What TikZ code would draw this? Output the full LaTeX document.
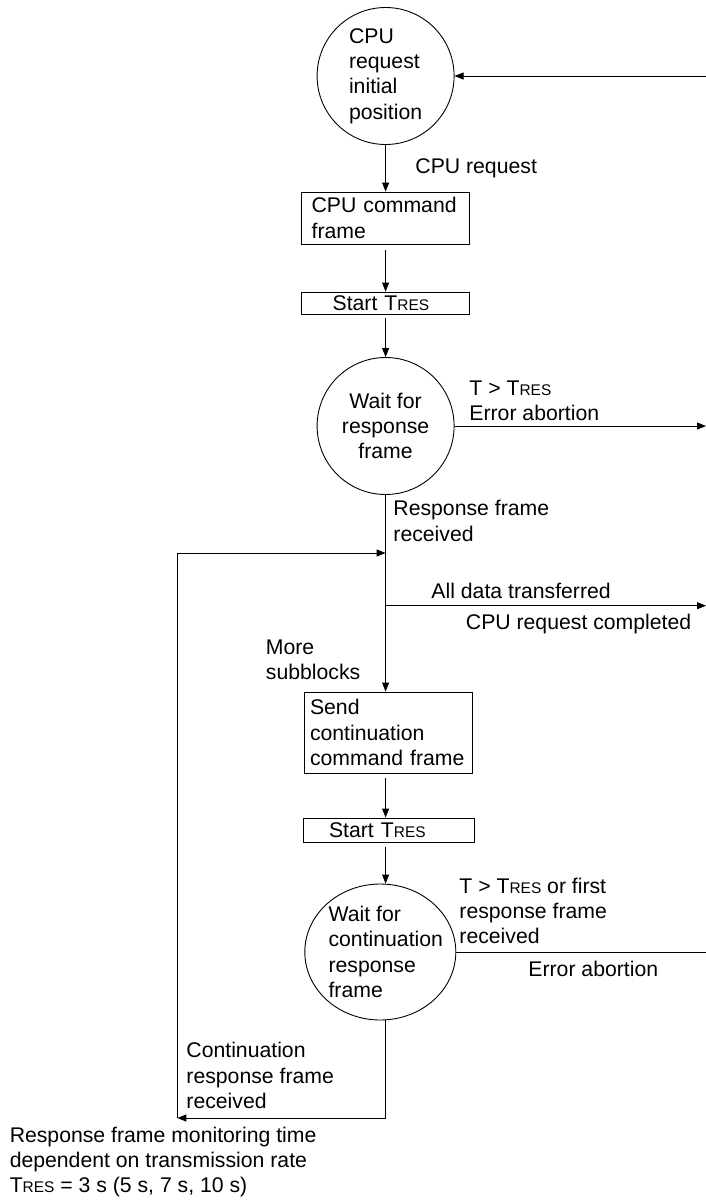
\documentclass[tikz,border=0pt]{standalone}
\usepackage{fontspec}
\setmainfont{Liberation Sans}
\usetikzlibrary{arrows.meta,shapes.geometric}
\newcommand\tres{T{\fontsize{15.5}{15.5}\selectfont RES}}
\begin{document}
\begin{tikzpicture}[x=1bp,y=-1bp,
  font=\fontsize{21.3}{25.3}\selectfont,
  line width=0.9bp,
  arr/.style={-{Triangle[length=9bp,width=7bp]}},
  state/.style={draw,circle,inner sep=0pt,minimum size=137bp},
  box/.style={draw,rectangle,inner ysep=0pt,align=left},
  lbl/.style={anchor=west,align=left,inner sep=0pt}]
\useasboundingbox (0,0) rectangle (706,1203);

% states
\node[state,label={[align=left,inner sep=0pt]center:CPU\\request\\initial\\position}] (c1) at (385.6,76) {};
\node[state,label={[align=center,inner sep=0pt]center:Wait for\\response\\frame}] (c2) at (385.6,426) {};
\node[draw,ellipse,inner sep=0pt,minimum width=151bp,minimum height=136bp,
      label={[align=left,inner sep=0pt,xshift=5.5bp]center:Wait for\\continuation\\response\\frame}] (c3) at (380.3,952) {};

% boxes
\node[box,text width=148bp,inner xsep=10bp,minimum height=52bp] (b1) at (385.6,218) {CPU command\\frame};
\node[box,text width=106bp,inner xsep=31bp,minimum height=22bp] (s1) at (385.6,303) {Start \tres};
\node[box,text width=156bp,inner xsep=6bp,minimum height=81bp] (b2) at (388,732.5) {Send\\continuation\\command frame};
\node[box,text width=119bp,inner xsep=26bp,minimum height=24bp] (s2) at (388.5,830) {Start \tres};

% free ends
\coordinate (inR) at (706,76);
\coordinate (outA) at (706,426);
\coordinate (br) at (385.6,605.7);
\coordinate (outB) at (706,605.7);
\coordinate (lp) at (385.6,553);
\coordinate (ll) at (177.4,1118);
\coordinate (outC) at (706,952);

% connectors
\draw[arr] (inR) -- (c1);
\draw[arr] (c1.south) -- (b1.north);
\draw[arr,shorten <=6bp] (b1.south) -- (s1.north);
\draw[arr,shorten <=4bp] (s1.south) -- (c2.north);
\draw[arr] (c2.east) -- (outA);
\draw[arr] (c2.south) -- (c2.south |- b2.north);
\draw[arr] (br) -- (outB);
\draw[arr] (ll) |- (lp);
\draw[arr,shorten <=5bp] (b2.south -| c2.south) -- (s2.north -| c2.south);
\draw[arr,shorten <=4.5bp] (s2.south -| c2.south) -- (c3.north -| c2.south);
\draw[arr] (c3.south -| c2.south) |- (ll);
\draw (c3.east) -- (outC);

% labels
\node[lbl] (l1) at (415,168) {CPU request};
\node[lbl] (l2) at (469,400.5) {T > \tres\\Error abortion};
\node[lbl] (l3) at (393,521) {Response frame\\received};
\node[lbl] (l4) at (431,591) {All data transferred};
\node[lbl] (l5) at (465.5,624) {CPU request completed};
\node[lbl] (l6) at (265.5,660) {More\\subblocks};
\node[lbl] (l7) at (459,911) {T > \tres{} or first\\response frame\\received};
\node[lbl] (l8) at (528,969) {Error abortion};
\node[lbl] (l9) at (186,1075.5) {Continuation\\response frame\\received};
\node[lbl] (l10) at (9.3,1162) {Response frame monitoring time\\dependent on transmission rate\\\tres{} = 3 s (5 s, 7 s, 10 s)};
\end{tikzpicture}
\end{document}
